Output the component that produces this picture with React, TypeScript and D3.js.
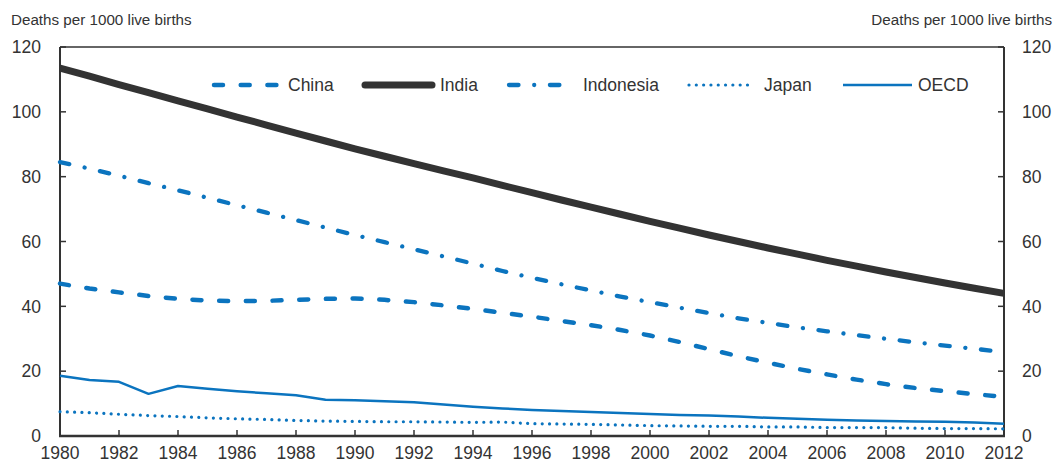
import React from "react";
import * as d3 from "d3";

const years = [1980,1981,1982,1983,1984,1985,1986,1987,1988,1989,1990,1991,1992,1993,1994,1995,1996,1997,1998,1999,2000,2001,2002,2003,2004,2005,2006,2007,2008,2009,2010,2011,2012];
const china = [47,45.5,44.3,43.2,42.3,41.8,41.6,41.7,42.0,42.3,42.4,42.0,41.3,40.3,39.2,38.0,36.8,35.5,34.2,32.7,31.0,29.0,26.8,24.6,22.6,20.7,19.0,17.4,16.0,14.8,13.8,12.9,12.1];
const india = [113.5,111,108.4,105.9,103.4,100.9,98.4,95.9,93.4,91.0,88.6,86.3,84.0,81.8,79.6,77.3,75.1,72.8,70.6,68.4,66.2,64.1,62.0,60.0,58.0,56.1,54.2,52.4,50.6,48.9,47.2,45.6,44.0];
const indonesia = [84.5,82.5,80.3,78.0,75.8,73.5,71.2,68.9,66.6,64.3,62.0,59.8,57.6,55.4,53.2,50.9,48.8,46.8,44.9,43.0,41.3,39.6,37.9,36.3,34.9,33.5,32.3,31.1,30.0,28.9,27.9,26.9,25.9];
const japan = [7.5,7.2,6.7,6.3,6.0,5.6,5.3,5.1,4.8,4.6,4.5,4.4,4.4,4.3,4.2,4.3,3.8,3.7,3.6,3.4,3.2,3.1,3.0,3.0,2.8,2.8,2.6,2.6,2.6,2.4,2.3,2.3,2.2];
const oecd = [18.6,17.3,16.7,13.0,15.4,14.6,13.8,13.2,12.6,11.2,11.0,10.7,10.4,9.7,9.0,8.5,8.0,7.7,7.4,7.1,6.8,6.5,6.3,6.0,5.6,5.3,5.0,4.8,4.6,4.5,4.4,4.2,3.8];
const yTicks = [0,20,40,60,80,100,120];
const xTicks = [1980,1982,1984,1986,1988,1990,1992,1994,1996,1998,2000,2002,2004,2006,2008,2010,2012];
const unitLabel = "Deaths per 1000 live births";

const BLUE = "#0b74bf";
const DARK = "#333333";
const FONT = "'Liberation Sans', Arial, Helvetica, sans-serif";

type S = { name: string; values: number[]; color: string; width: number; dash?: string; cap: string };
const series: S[] = [
  { name: "China", values: china, color: BLUE, width: 4.5, dash: "9 17.7", cap: "round" },
  { name: "India", values: india, color: DARK, width: 7, cap: "butt" },
  { name: "Indonesia", values: indonesia, color: BLUE, width: 4.3, dash: "9.5 15.7 0.01 15.7", cap: "round" },
  { name: "Japan", values: japan, color: BLUE, width: 3.2, dash: "0.01 7.3", cap: "round" },
  { name: "OECD", values: oecd, color: BLUE, width: 2.5, cap: "butt" },
];
const legendPos = [
  { x1: 214, x2: 280, tx: 288 },
  { x1: 365, x2: 432, tx: 440 },
  { x1: 509, x2: 565, tx: 583 },
  { x1: 689, x2: 753, tx: 764 },
  { x1: 843, x2: 912, tx: 918 },
];

export default function App() {
  const W = 1058, H = 463;
  const left = 60, right = 1004, top = 47, bottom = 436;
  const x = d3.scaleLinear().domain([1980, 2012]).range([left, right]);
  const y = d3.scaleLinear().domain([0, 120]).range([bottom, top]);
  const line = d3.line<number>().x((_, i) => x(years[i])).y((v) => y(v));
  return (
    <svg width={W} height={H} style={{ position: "absolute", left: 0, top: 0, fontFamily: FONT }}>
      <rect width={W} height={H} fill="#fff" />
      <text x={11} y={25} fontSize={15.2} fill={DARK}>{unitLabel}</text>
      <text x={1052} y={25} fontSize={15.2} fill={DARK} textAnchor="end">{unitLabel}</text>
      {/* frame */}
      <line x1={left} x2={right} y1={top} y2={top} stroke={DARK} strokeWidth={1.5} />
      <line x1={left} x2={left} y1={top} y2={bottom} stroke={DARK} strokeWidth={2} />
      <line x1={right} x2={right} y1={top} y2={bottom} stroke={DARK} strokeWidth={2} />
      {yTicks.map((t) => (
        <g key={t}>
          <line x1={left} x2={left + 6} y1={y(t)} y2={y(t)} stroke={DARK} strokeWidth={1.5} />
          <line x1={right - 6} x2={right} y1={y(t)} y2={y(t)} stroke={DARK} strokeWidth={1.5} />
          <text x={41} y={y(t)} dy="0.36em" fontSize={17.5} fill={DARK} textAnchor="end">{t}</text>
          <text x={1022} y={y(t)} dy="0.36em" fontSize={17.5} fill={DARK}>{t}</text>
        </g>
      ))}
      {xTicks.map((t) => (
        <g key={t}>
          <line x1={x(t)} x2={x(t)} y1={bottom} y2={bottom - 6} stroke={DARK} strokeWidth={1.5} />
          <text x={x(t)} y={459} fontSize={17.5} fill={DARK} textAnchor="middle">{t}</text>
        </g>
      ))}
      {series.map((s) => (
        <path key={s.name} d={line(s.values) || ""} fill="none" stroke={s.color} strokeWidth={s.width}
          strokeDasharray={s.dash} strokeLinecap={s.cap as any} strokeLinejoin="round" />
      ))}
      <line x1={left - 1} x2={right + 1} y1={bottom} y2={bottom} stroke={DARK} strokeWidth={2.5} />
      {series.map((s, i) => (
        <g key={s.name}>
          <line x1={legendPos[i].x1} x2={legendPos[i].x2} y1={85} y2={85} stroke={s.color} strokeWidth={s.width}
            strokeDasharray={s.dash} strokeLinecap={s.name === "India" ? "round" : (s.cap as any)} />
          <text x={legendPos[i].tx} y={85} dy="0.36em" fontSize={17.5} fill={DARK}>{s.name}</text>
        </g>
      ))}
    </svg>
  );
}
